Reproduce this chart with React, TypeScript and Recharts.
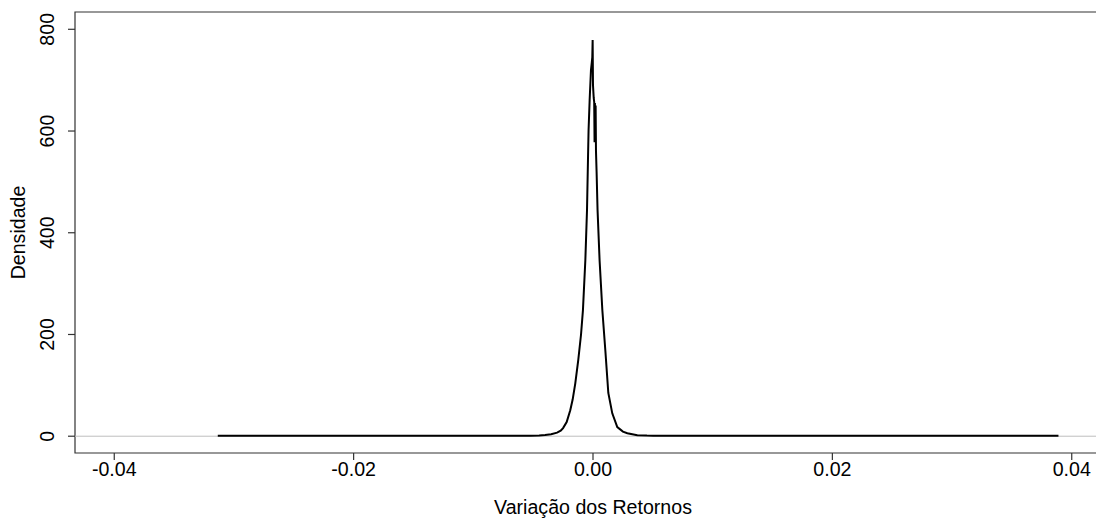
import React from "react";
import {
  LineChart,
  Line,
  XAxis,
  YAxis,
  ReferenceLine,
  ReferenceArea,
} from "recharts";

// Return variation (x) and estimated kernel density (y)
const returnValues: number[] = [
  -0.03135, -0.025, -0.018, -0.012, -0.008, -0.0052, -0.0045, -0.004, -0.0035,
  -0.003, -0.0027, -0.0025, -0.0022, -0.0019, -0.0017, -0.00148, -0.00123,
  -0.001, -0.00084, -0.00064, -0.0005, -0.00042, -0.00037, -0.00028, -0.00017,
  -0.0001, -0.00006, -0.00003, 0.0, 0.00003, 0.00006, 0.0001, 0.00013, 0.00016,
  0.00019, 0.00022, 0.00025, 0.0003, 0.00038, 0.00055, 0.00078, 0.00103,
  0.00128, 0.00161, 0.00203, 0.0025, 0.00287, 0.0037, 0.0045, 0.00504, 0.01,
  0.02, 0.03, 0.03889,
];
const densityValues: number[] = [
  0.8, 0.8, 0.8, 0.8, 0.9, 1.0, 1.6, 2.5, 4, 7, 11, 16, 28, 51, 72, 104, 150,
  200, 248, 346, 445, 543, 602, 661, 720, 735, 745, 779, 690, 677, 665, 657,
  578, 655, 580, 650, 560, 520, 445, 346, 248, 169, 85, 45, 18, 9, 6, 2, 1.2,
  1.0, 0.8, 0.8, 0.8, 0.8,
];

const xTicks: number[] = [-0.04, -0.02, 0.0, 0.02, 0.04];
const yTicks: number[] = [0, 200, 400, 600, 800];
const xDomain: [number, number] = [-0.04328, 0.04328];
const yDomain: [number, number] = [-33, 834];

const xLabel = "Variação dos Retornos";
const yLabel = "Densidade";

const data = returnValues.map((x, i) => ({ x, y: densityValues[i] }));

const FONT = "'Liberation Sans', Arial, sans-serif";
const FS = 19.6;

const YTick = (props: any) => {
  const { x, y, payload } = props;
  const tx = x - 12;
  return (
    <text
      x={tx}
      y={y}
      transform={`rotate(-90, ${tx}, ${y})`}
      textAnchor="middle"
      fontSize={FS}
      fontFamily={FONT}
      fill="#000"
    >
      {String(payload.value)}
    </text>
  );
};

const XTick = (props: any) => {
  const { x, y, payload } = props;
  return (
    <text
      x={x}
      y={y + 14}
      textAnchor="middle"
      fontSize={FS}
      fontFamily={FONT}
      fill="#000"
    >
      {Number(payload.value).toFixed(2)}
    </text>
  );
};

const YLabel = (props: any) => {
  const vb = props.viewBox || { x: 0, y: 12, width: 75, height: 441 };
  const cx = vb.x + 25;
  const cy = vb.y + vb.height / 2;
  return (
    <text
      x={cx}
      y={cy}
      transform={`rotate(-90, ${cx}, ${cy})`}
      textAnchor="middle"
      fontSize={FS}
      fontFamily={FONT}
      fill="#000"
    >
      {yLabel}
    </text>
  );
};

const XLabel = (props: any) => {
  const vb = props.viewBox || { x: 75, y: 453, width: 1036, height: 65 };
  return (
    <text
      x={vb.x + vb.width / 2}
      y={vb.y + 61}
      textAnchor="middle"
      fontSize={FS}
      fontFamily={FONT}
      fill="#000"
    >
      {xLabel}
    </text>
  );
};

export default function App() {
  return (
    <div
      style={{
        position: "absolute",
        left: 0,
        top: 0,
        width: 1096,
        height: 518,
        overflow: "hidden",
        background: "#fff",
      }}
    >
      <LineChart
        width={1112}
        height={518}
        data={data}
        margin={{ top: 12, right: 1, bottom: 0, left: 0 }}
      >
        <XAxis
          dataKey="x"
          type="number"
          domain={xDomain}
          ticks={xTicks}
          allowDataOverflow
          axisLine={false}
          tickLine={{ stroke: "#333", strokeWidth: 1.2 }}
          tickSize={7}
          tickMargin={2}
          tick={<XTick />}
          height={65}
          interval={0}
          label={<XLabel />}
        />
        <YAxis
          type="number"
          domain={yDomain}
          ticks={yTicks}
          allowDataOverflow
          axisLine={false}
          tickLine={{ stroke: "#333", strokeWidth: 1.2 }}
          tickSize={7}
          tickMargin={2}
          tick={<YTick />}
          width={75}
          interval={0}
          label={<YLabel />}
        />
        <ReferenceLine y={0} stroke="#bebebe" strokeWidth={1} />
        <ReferenceArea
          x1={xDomain[0]}
          x2={xDomain[1]}
          y1={yDomain[0]}
          y2={yDomain[1]}
          fill="none"
          fillOpacity={0}
          stroke="#333"
          strokeWidth={1.2}
          ifOverflow="visible"
        />
        <Line
          type="linear"
          dataKey="y"
          stroke="#000"
          strokeWidth={2}
          dot={false}
          isAnimationActive={false}
        />
      </LineChart>
    </div>
  );
}
